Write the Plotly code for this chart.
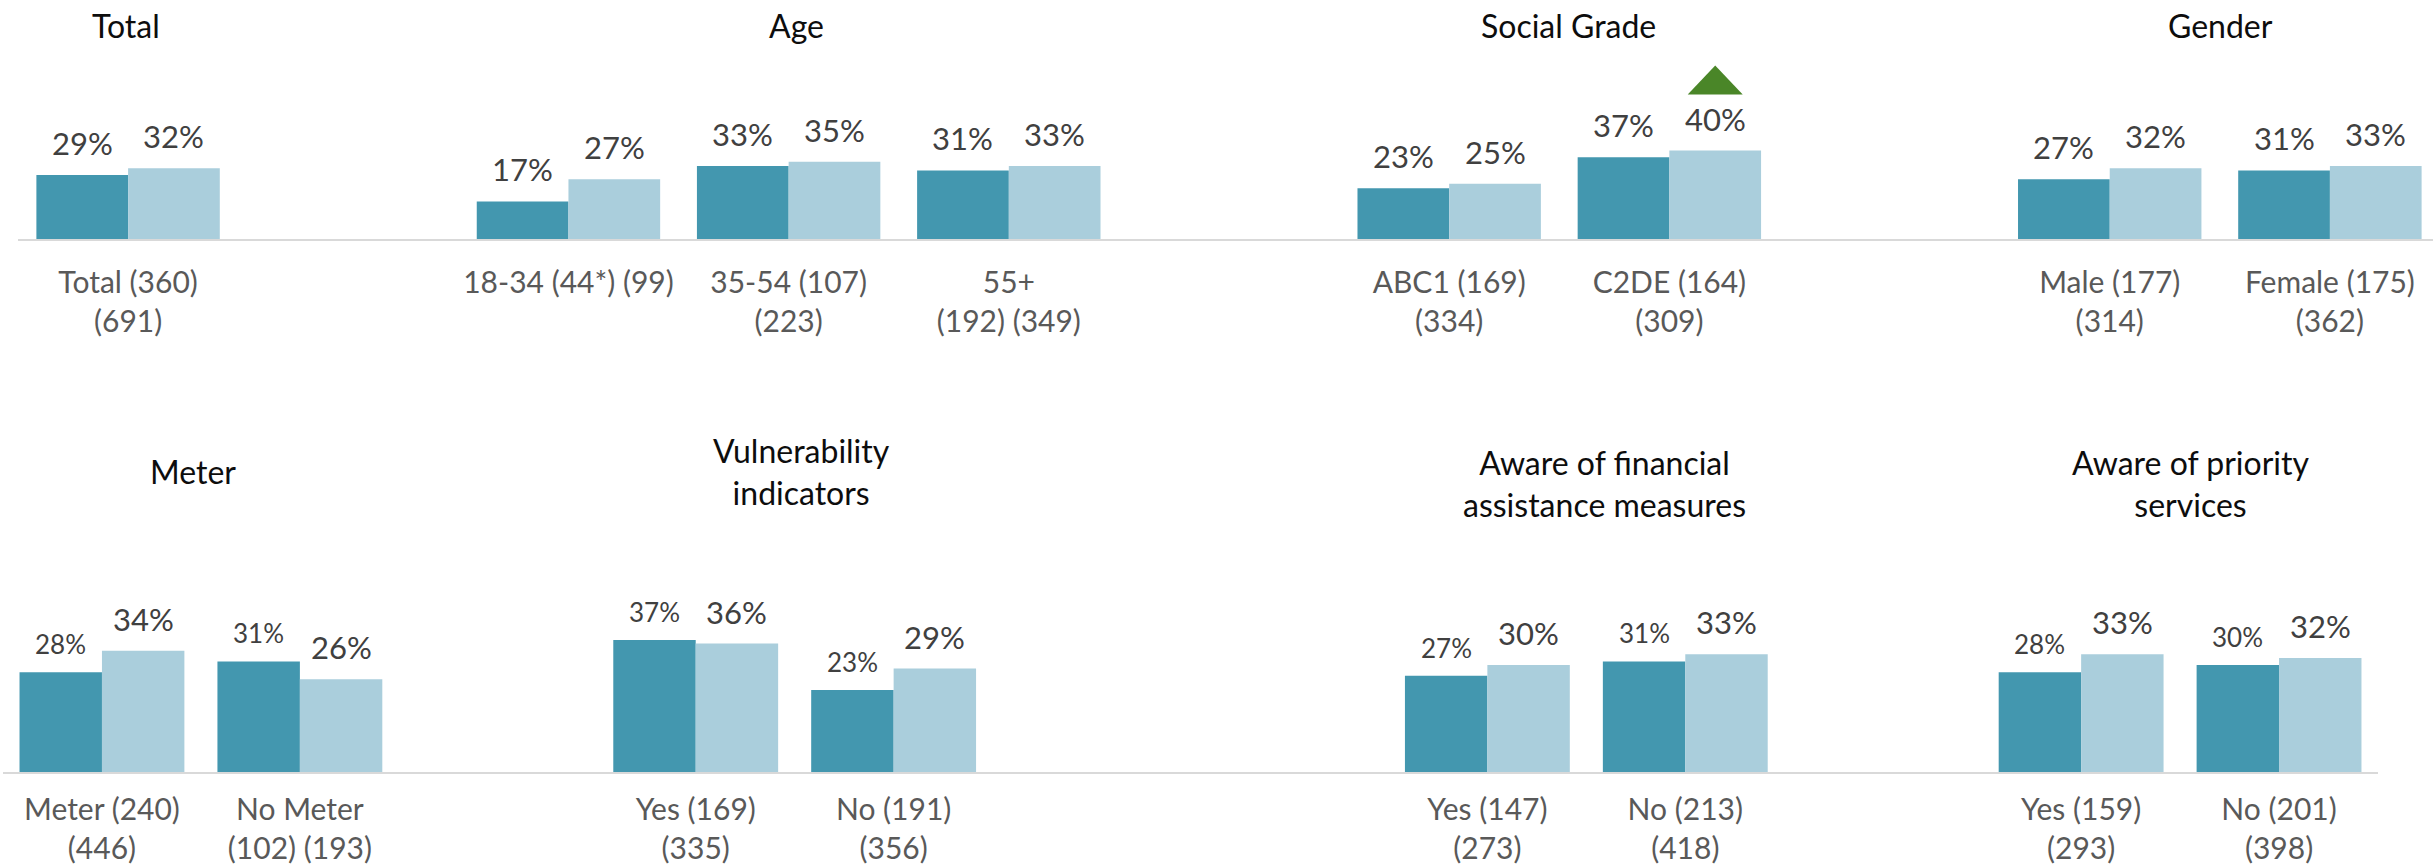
import plotly.graph_objects as go

# ---------------- data ----------------
top_titles = ["Total", "Age", "Social Grade", "Gender"]
top_panel_sizes = [1, 3, 2, 2]
top_labels = [
    "Total (360)<br>(691)",
    "18-34 (44*) (99)",
    "35-54 (107)<br>(223)",
    "55+<br>(192) (349)",
    "ABC1 (169)<br>(334)",
    "C2DE (164)<br>(309)",
    "Male (177)<br>(314)",
    "Female (175)<br>(362)",
]
top_prev = [29, 17, 33, 31, 23, 37, 27, 31]
top_curr = [32, 27, 35, 33, 25, 40, 32, 33]
top_sig_up = [False, False, False, False, False, True, False, False]

bottom_titles = [
    "Meter",
    "Vulnerability<br>indicators",
    "Aware of financial<br>assistance measures",
    "Aware of priority<br>services",
]
bottom_panel_sizes = [2, 2, 2, 2]
bottom_labels = [
    "Meter (240)<br>(446)",
    "No Meter<br>(102) (193)",
    "Yes (169)<br>(335)",
    "No (191)<br>(356)",
    "Yes (147)<br>(273)",
    "No (213)<br>(418)",
    "Yes (159)<br>(293)",
    "No (201)<br>(398)",
]
bottom_prev = [28, 31, 37, 23, 27, 31, 28, 30]
bottom_curr = [34, 26, 36, 29, 30, 33, 33, 32]

# ---------------- styling / layout ----------------
W, H = 2433, 865
DARK = "#4397AF"
LIGHT = "#AACEDC"
GREEN = "#4A8628"
FONT = "Lato"
VALUE_COLOR = "#404040"
LABEL_COLOR = "#595959"
TITLE_COLOR = "#0D0D0D"
BARGAP = 0.167
HALF = (1 - BARGAP) / 4  # centre offset of each bar inside its slot

# empty slots placed before each panel
top_spacers = [0, 1, 1, 1]
bottom_spacers = [0, 1, 2, 1]


def slot_positions(sizes, spacers):
    pos, cur = [], 0
    for n, s in zip(sizes, spacers):
        cur += s
        pos.extend(range(cur, cur + n))
        cur += n
    return pos


top_x = slot_positions(top_panel_sizes, top_spacers)
bot_x = slot_positions(bottom_panel_sizes, bottom_spacers)


def fx(px):
    return px / W


def fy(px):
    return 1 - px / H


fig = go.Figure()

rows = [
    (top_x, top_prev, top_curr, "x", "y"),
    (bot_x, bottom_prev, bottom_curr, "x2", "y2"),
]
for xs, prev, curr, xa, ya in rows:
    fig.add_trace(go.Bar(x=xs, y=prev, name="Previous wave", marker_color=DARK,
                         marker_line_width=0, xaxis=xa, yaxis=ya, showlegend=False,
                         hoverinfo="skip"))
    fig.add_trace(go.Bar(x=xs, y=curr, name="Latest wave", marker_color=LIGHT,
                         marker_line_width=0, xaxis=xa, yaxis=ya, showlegend=False,
                         hoverinfo="skip"))

annotations = []
# value labels above each bar
for xs, vals, off, xa, ya, size, shift in [
    (top_x, top_prev, -HALF, "x", "y", 31, 11),
    (top_x, top_curr, HALF, "x", "y", 31, 11),
    (bot_x, bottom_prev, -HALF, "x2", "y2", 26, 10),
    (bot_x, bottom_curr, HALF, "x2", "y2", 31, 11),
]:
    for x, v in zip(xs, vals):
        annotations.append(dict(
            x=x + off, y=v, xref=xa, yref=ya, text=f"{v}%", showarrow=False,
            xanchor="center", yanchor="bottom", yshift=shift,
            font=dict(family=FONT, size=size, color=VALUE_COLOR)))

# panel titles
top_title_px = [(126, 26), (796, 26), (1568, 26), (2220, 26)]
bot_title_px = [(193, 471), (801, 472), (1604, 483), (2190, 483)]
for titles, places in [(top_titles, top_title_px), (bottom_titles, bot_title_px)]:
    for t, (px, py) in zip(titles, places):
        annotations.append(dict(
            x=fx(px), y=fy(py), xref="paper", yref="paper", text=t, showarrow=False,
            xanchor="center", yanchor="middle",
            font=dict(family=FONT, size=32, color=TITLE_COLOR)))

# significance markers (green triangle above the latest-wave bar)
shapes = []
for x, v, up in zip(top_x, top_curr, top_sig_up):
    if up:
        shapes.append(dict(
            type="path", xref="x", yref="y", xsizemode="pixel", ysizemode="pixel",
            xanchor=x + HALF, yanchor=v, path="M -27.5,56 L 27.5,56 L 0,85 Z",
            fillcolor=GREEN, line=dict(width=0), layer="above"))

# axis geometry in pixels
top_base, top_scale = 239, 2.21        # baseline y, px per percentage point
bot_base, bot_scale = 772.3, 3.575
top_yrange = 90
bot_yrange = 60

axis_common = dict(
    showgrid=False, zeroline=False, showline=True, linecolor="#D9D9D9", linewidth=2,
    ticks="", tickangle=0, tickfont=dict(family=FONT, size=30, color=LABEL_COLOR),
    fixedrange=True, automargin=False,
)

fig.update_layout(
    width=W, height=H,
    margin=dict(l=0, r=0, t=0, b=0, autoexpand=False),
    paper_bgcolor="white", plot_bgcolor="white",
    barmode="group", bargap=BARGAP, bargroupgap=0,
    font=dict(family=FONT),
    xaxis=dict(domain=[fx(18), 1], range=[-0.5, 10.5 - 7 / 220.2], anchor="y",
               tickmode="array", tickvals=top_x, ticktext=top_labels,
               ticklabelstandoff=16, **axis_common),
    yaxis=dict(domain=[fy(top_base), fy(top_base - top_yrange * top_scale)],
               range=[0, top_yrange], visible=False, anchor="x", fixedrange=True,
               automargin=False),
    xaxis2=dict(domain=[fx(3), fx(2378)], range=[-0.5, 11.5], anchor="y2",
                tickmode="array", tickvals=bot_x, ticktext=bottom_labels,
                ticklabelstandoff=10, **axis_common),
    yaxis2=dict(domain=[fy(bot_base), fy(bot_base - bot_yrange * bot_scale)],
                range=[0, bot_yrange], visible=False, anchor="x2", fixedrange=True,
                automargin=False),
    annotations=annotations,
    shapes=shapes,
)

fig.write_html("out.html")
